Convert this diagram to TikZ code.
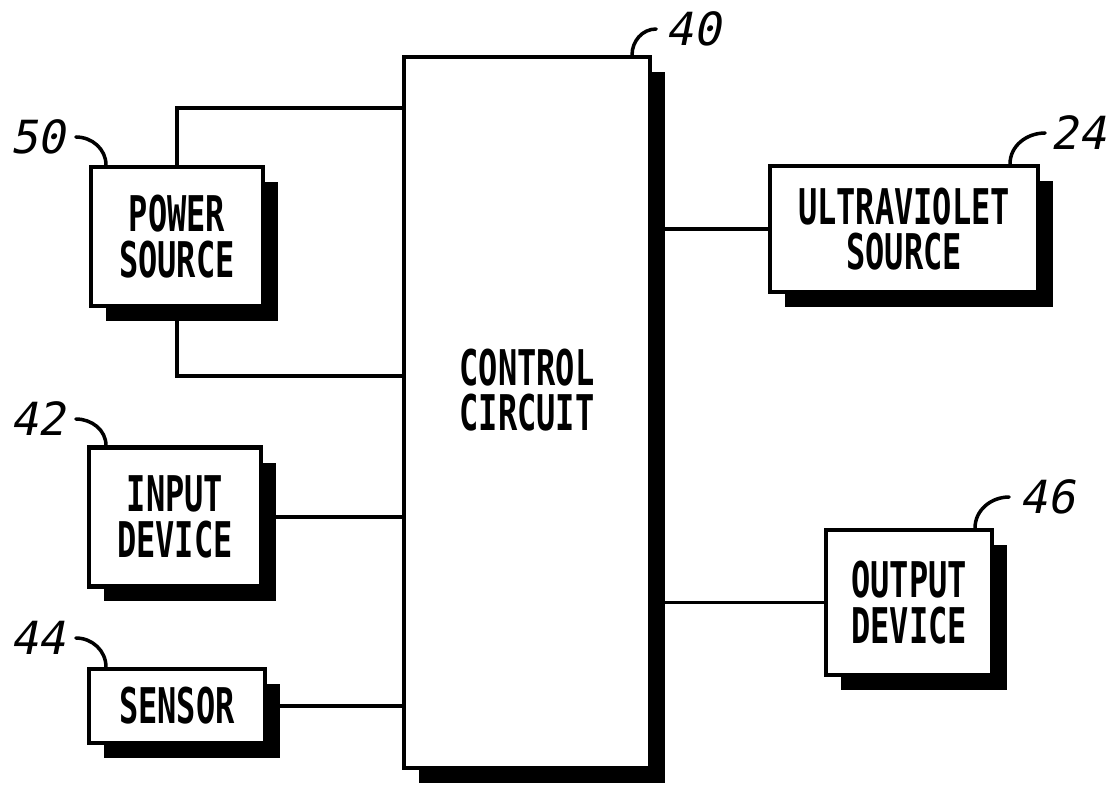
\documentclass[tikz,border=0pt]{standalone}
\usepackage{fontspec}
\usepackage{tikz}
\usetikzlibrary{shadows}
\newfontfamily\boxfont{DejaVu Sans Mono}[FakeStretch=0.65]
\newfontfamily\tagfont{DejaVu Sans Mono}[FakeSlant=0.2]
\tikzset{
 boxtext/.style={
 align=center,
 font=\boxfont\bfseries\fontsize{28}{26}\selectfont
 },
 block/.style={
 boxtext,
 rectangle,
 draw=black,
 fill=white,
 line width=2.3pt,
 inner sep=0pt,
 drop shadow={shadow xshift=0.3cm, shadow yshift=-0.3cm, fill=black, opacity=1}
 },
 tag/.style={inner sep=0pt, font=\tagfont\fontsize{26}{26}\selectfont},
 wire/.style={line width=2pt},
 leader/.style={line width=2pt, line cap=round}
}

\begin{document}
\begin{tikzpicture}[x=0.02cm, y=-0.02cm]
 \useasboundingbox (0,0) rectangle (1111,784);
 \node[block, minimum width=4.92cm, minimum height=14.22cm] (ctrl) at (527,412.5) {};
 \node[boxtext] (ctrltext) at (527,390) {CONTROL\\CIRCUIT};
 \node[block, minimum width=3.44cm, minimum height=2.78cm] (power) at (177,236.5) {POWER\\SOURCE};
 \node[block, minimum width=3.44cm, minimum height=2.78cm] (input) at (175,517) {INPUT\\DEVICE};
 \node[block, minimum width=3.52cm, minimum height=1.48cm] (sensor) at (177,706) {SENSOR};
 \node[block, minimum width=5.36cm, minimum height=2.52cm] (uv) at (904,229) {ULTRAVIOLET\\SOURCE};
 \node[block, minimum width=3.32cm, minimum height=2.9cm] (output) at (909,602.5) {OUTPUT\\DEVICE};
 \draw[wire] (power.north) |- ([yshift=6.09cm]ctrl.west);
 \draw[wire] (power.south) |- ([yshift=0.73cm]ctrl.west);
 \draw[wire] (input.east) -- (input.east -| ctrl.west);
 \draw[wire] (sensor.east) -- (sensor.east -| ctrl.west);
 \draw[wire] (ctrl.east |- uv.west) -- (uv.west);
 \draw[wire] (ctrl.east |- output.west) -- (output.west);
 \node[tag] (t40) at (693,29) {40};
 \node[tag] (t50) at (38,137) {50};
 \node[tag] (t42) at (38,419) {42};
 \node[tag] (t44) at (38,638) {44};
 \node[tag] (t24) at (1078,133) {24};
 \node[tag] (t46) at (1047,497) {46};
 \draw[leader] ([xshift=-0.4cm]ctrl.north east) to[out=90, in=180] ([xshift=-0.18cm]t40.west);
 \draw[leader] ([xshift=0.2cm]t50.east) to[out=0, in=90] ([xshift=0.34cm]power.north west);
 \draw[leader] ([xshift=0.2cm]t42.east) to[out=0, in=90] ([xshift=0.38cm]input.north west);
 \draw[leader] ([xshift=0.2cm]t44.east) to[out=0, in=90] ([xshift=0.38cm]sensor.north west);
 \draw[leader] ([xshift=-0.6cm]uv.north east) to[out=90, in=180] ([xshift=-0.1cm]t24.west);
 \draw[leader] ([xshift=-0.38cm]output.north east) to[out=90, in=180] ([xshift=-0.2cm]t46.west);
\end{tikzpicture}
\end{document}
